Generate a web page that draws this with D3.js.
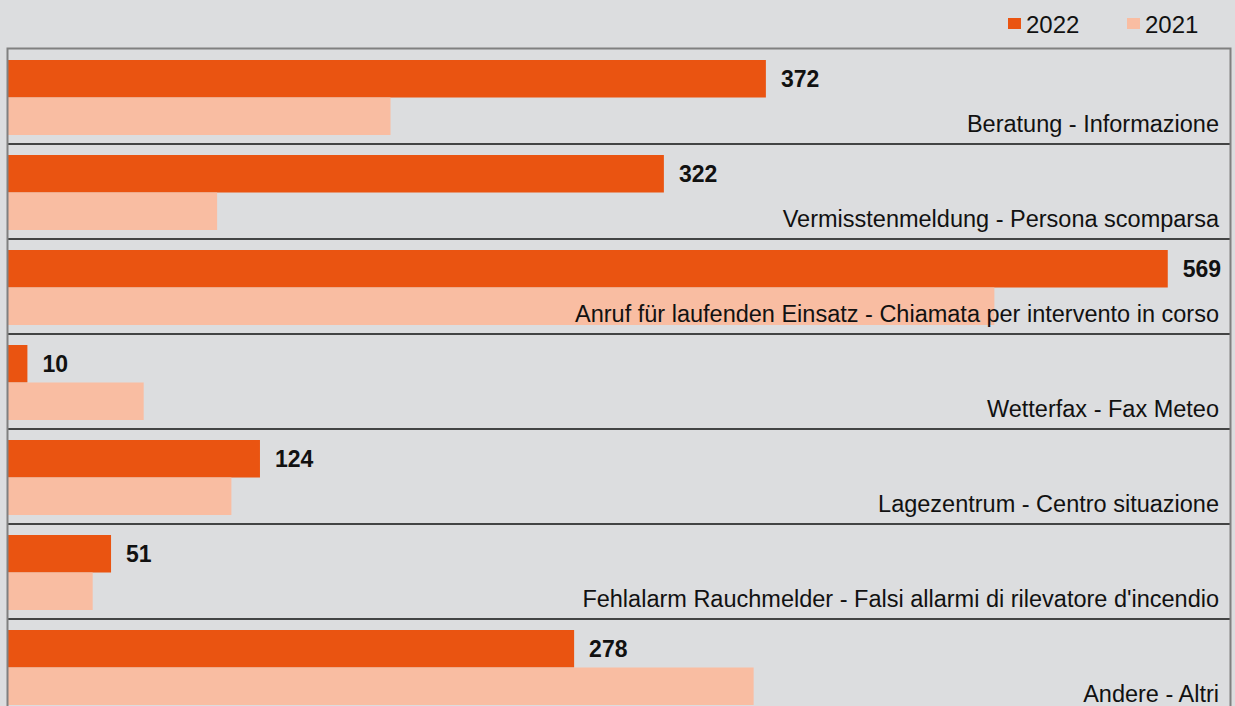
<!DOCTYPE html>
<html>
<head>
<meta charset="utf-8">
<script src="https://cdn.jsdelivr.net/npm/d3@7"></script>
<style>
  html, body { margin: 0; padding: 0; background: #dcdddf; }
  svg { display: block; font-family: "Liberation Sans", Arial, sans-serif; }
</style>
</head>
<body>
<svg id="chart" width="1235" height="706"></svg>
<script>
// Call categories, top to bottom
const categories = [
  "Beratung - Informazione",
  "Vermisstenmeldung - Persona scomparsa",
  "Anruf für laufenden Einsatz - Chiamata per intervento in corso",
  "Wetterfax - Fax Meteo",
  "Lagezentrum - Centro situazione",
  "Fehlalarm Rauchmelder - Falsi allarmi di rilevatore d'incendio",
  "Andere - Altri"
];
const seriesNames = ["2022", "2021"];
const values2022 = [372, 322, 569, 10, 124, 51, 278];
const values2021 = [188, 103, 484, 67, 110, 42, 366];

const colors = { "2022": "#ea5411", "2021": "#f9bda2" };

const svg = d3.select("#chart");
const plotLeft = 7, plotRight = 1231, plotTop = 49, step = 95;

const x = d3.scaleLinear().domain([0, 600]).range([plotLeft, plotRight]);
const y = d3.scaleBand().domain(categories).range([plotTop, plotTop + step * categories.length]).padding(0);
const ySeries = d3.scaleBand().domain(seriesNames).range([11, 86]).padding(0);

const rows = categories.map((c, i) => ({ cat: c, "2022": values2022[i], "2021": values2021[i] }));

const g = svg.append("g");

// Bars
const row = g.selectAll("g.row").data(rows).join("g")
  .attr("class", "row")
  .attr("transform", d => `translate(0,${y(d.cat)})`);

row.selectAll("rect").data(d => seriesNames.map(s => ({ s, v: d[s] }))).join("rect")
  .attr("x", x(0))
  .attr("y", d => ySeries(d.s))
  .attr("width", d => x(d.v) - x(0))
  .attr("height", ySeries.bandwidth())
  .attr("fill", d => colors[d.s]);

// Category labels, bottom-right of each band
row.append("text")
  .attr("x", 1219)
  .attr("y", 83)
  .attr("text-anchor", "end")
  .attr("font-size", 23.5)
  .attr("fill", "#111")
  .text(d => d.cat);

// Value labels for 2022
row.append("text")
  .attr("x", d => x(d["2022"]) + 15)
  .attr("y", ySeries("2022") + ySeries.bandwidth() / 2)
  .attr("dy", "0.35em")
  .attr("font-size", 23)
  .attr("font-weight", "bold")
  .attr("fill", "#111")
  .text(d => d["2022"]);

// Separators between categories
g.selectAll("line.sep").data(categories.slice(1)).join("line")
  .attr("class", "sep")
  .attr("x1", plotLeft).attr("x2", plotRight - 1)
  .attr("y1", d => y(d)).attr("y2", d => y(d))
  .attr("stroke", "#111").attr("stroke-width", 1.6);

// Plot frame
svg.append("path")
  .attr("d", `M${plotLeft + 0.5},720 V${plotTop - 0.5} H${plotRight - 0.5} V720`)
  .attr("fill", "none")
  .attr("stroke", "#808080")
  .attr("stroke-width", 2);

// Legend
const legendPos = [{ s: "2022", x: 1008 }, { s: "2021", x: 1127 }];
const lg = svg.selectAll("g.legend").data(legendPos).join("g")
  .attr("class", "legend")
  .attr("transform", d => `translate(${d.x},18)`);
lg.append("rect").attr("width", 13).attr("height", 11).attr("fill", d => colors[d.s]);
lg.append("text")
  .attr("x", 18).attr("y", 15)
  .attr("font-size", 24)
  .attr("fill", "#111")
  .text(d => d.s);
</script>
</body>
</html>
